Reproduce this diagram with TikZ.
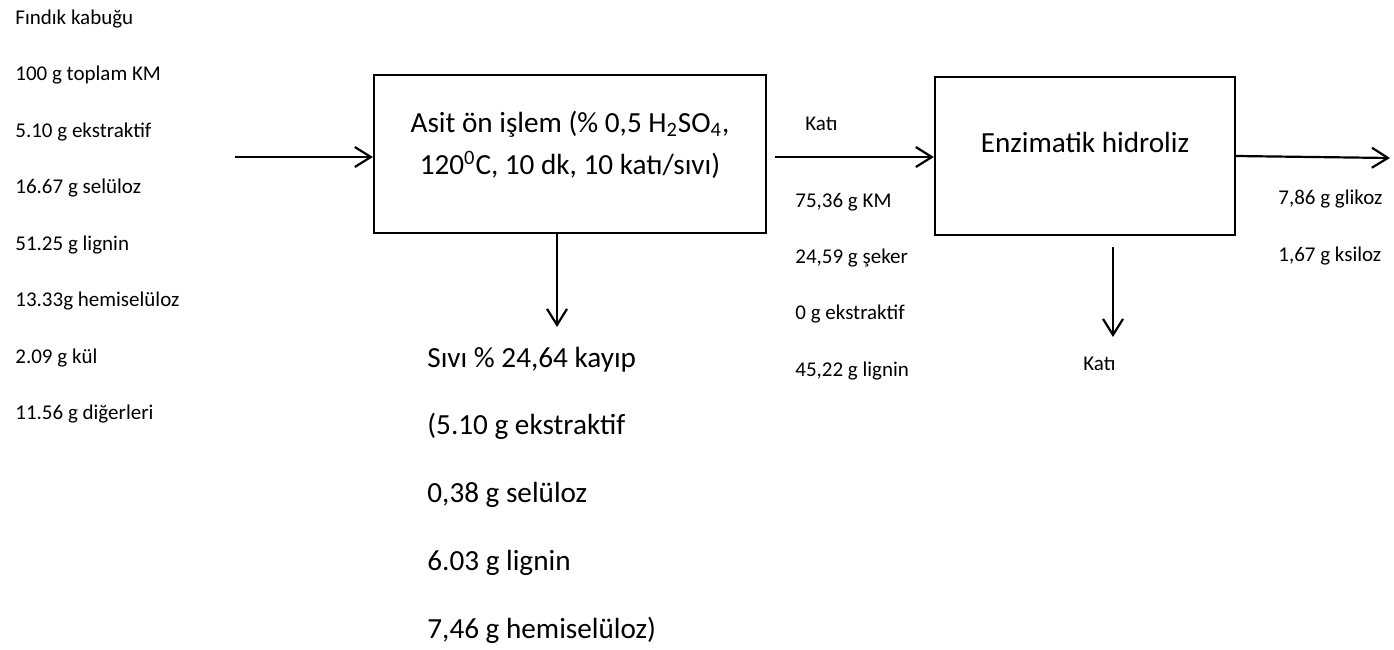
\documentclass[tikz,border=0pt]{standalone}
\usepackage{fontspec}
\setmainfont{Carlito}
\usetikzlibrary{arrows.meta}

\begin{document}
\begin{tikzpicture}[x=0.5pt, y=-0.5pt,
  kutu/.style={draw, line width=1.1pt, inner sep=0pt, minimum height=79pt},
  kucuk/.style={font=\fontsize{10.5}{12}\selectfont, anchor=base west, inner sep=0pt},
  buyuk/.style={font=\fontsize{14.6}{21}\selectfont, inner sep=0pt},
  akis/.style={line width=1.1pt, -{Straight Barb[length=8pt,width=10pt]}}]
  \useasboundingbox (0,0) rectangle (1394,649);
  % process boxes
  \node[kutu, minimum width=196pt] (asit) at (570,154) {};
  \node[kutu, minimum width=150pt] (enzim) at (1085,156) {};
  \node[buyuk, align=center] (asit-txt) at (570,145)
    {Asit ön işlem (\% 0,5 H\textsubscript{2}SO\textsubscript{4},\\120\textsuperscript{0}C, 10 dk, 10 katı/sıvı)};
  \node[buyuk, anchor=base] (enzim-txt) at (1085,152) {Enzimatik hidroliz};
  % stream texts
  \foreach \satir [count=\i] in {Fındık kabuğu, 100 g toplam KM, 5.10 g ekstraktif,
      16.67 g selüloz, 51.25 g lignin, 13.33g hemiselüloz, 2.09 g kül, 11.56 g diğerleri}
    \node[kucuk] (girdi-\i) at (15,{24+56.5*(\i-1)}) {\satir};
  \foreach \satir [count=\i] in {{75,36 g KM}, {24,59 g şeker}, {0 g ekstraktif}, {45,22 g lignin}}
    \node[kucuk] (ara-\i) at (795,{207+56.4*(\i-1)}) {\satir};
  \foreach \satir [count=\i] in {{7,86 g glikoz}, {1,67 g ksiloz}}
    \node[kucuk] (urun-\i) at (1278,{204+57*(\i-1)}) {\satir};
  \foreach \satir [count=\i] in {{Sıvı \% 24,64 kayıp}, {(5.10 g ekstraktif}, {0,38 g selüloz},
      {6.03 g lignin}, {7,46 g hemiselüloz)}}
    \node[buyuk, anchor=base west] (sivi-\i) at (427,{367+67.75*(\i-1)}) {\satir};
  \node[kucuk] (kati-1) at (805,130) {Katı};
  \node[kucuk] (kati-2) at (1083,370) {Katı};
  % arrows
  \coordinate (besleme) at (235,157);
  \coordinate (sivi) at (557,327);
  \coordinate (kati-bas) at (775,157);
  \coordinate (urun) at (1390,158);
  \coordinate (kalinti-bas) at (1113,247);
  \coordinate (kalinti) at (1113,337);
  \path[akis]
    (besleme) edge (besleme -| asit.west)
    (asit.south -| sivi) edge (sivi)
    (kati-bas) edge (kati-bas -| enzim.west)
    (enzim.east) edge (urun)
    (kalinti-bas) edge (kalinti);
\end{tikzpicture}
\end{document}
